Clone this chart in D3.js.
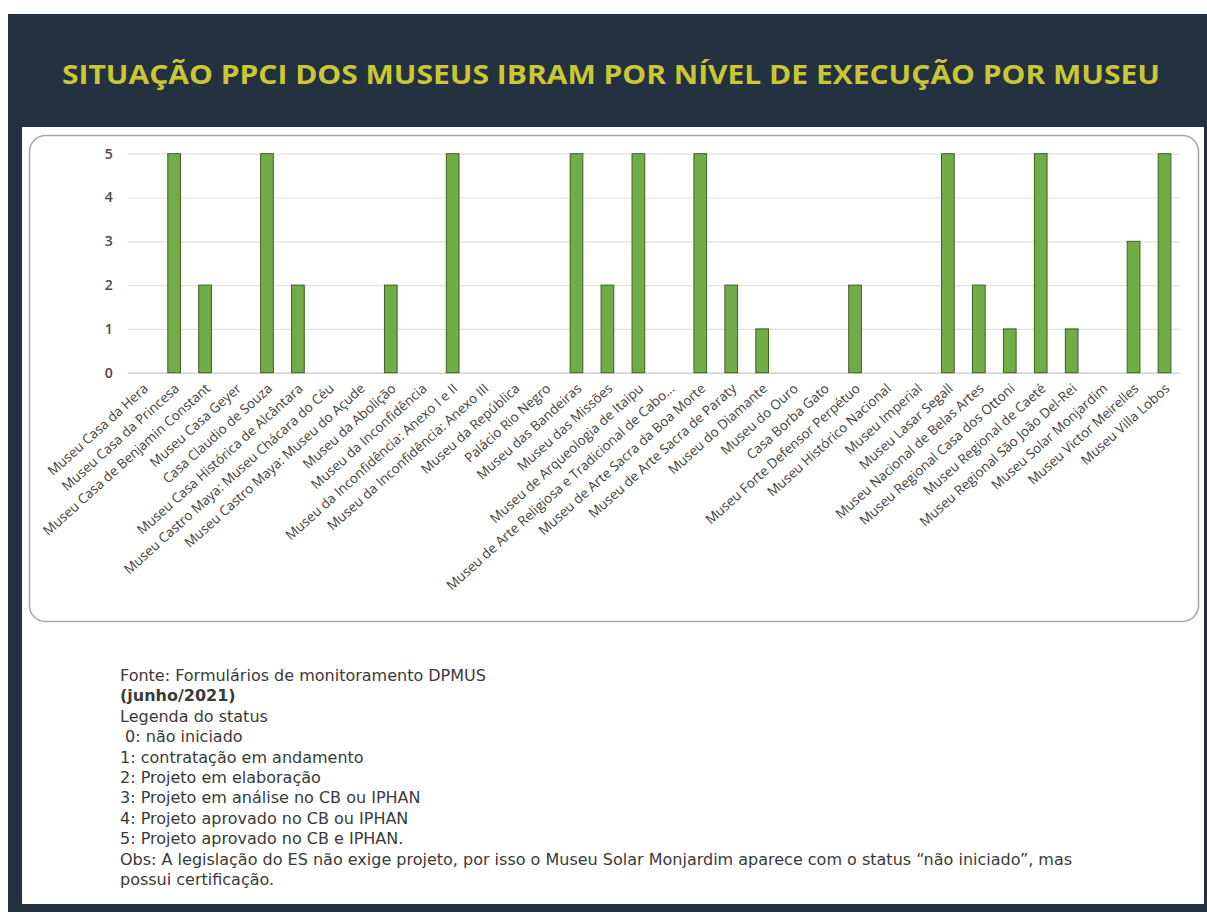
<!DOCTYPE html>
<html><head><meta charset="utf-8">
<script src="https://cdn.jsdelivr.net/npm/d3@7"></script>
<style>html,body{margin:0;padding:0;background:#fff;}svg{display:block;}</style>
</head><body>
<script>
const museums = ["Museu Casa da Hera","Museu Casa da Princesa","Museu Casa de Benjamin Constant","Museu Casa Geyer","Casa Claudio de Souza","Museu Casa Histórica de Alcântara","Museu Castro Maya: Museu Chácara do Céu","Museu Castro Maya: Museu do Açude","Museu da Abolição","Museu da Inconfidência","Museu da Inconfidência: Anexo I e II","Museu da Inconfidência: Anexo III","Museu da República","Palácio Rio Negro","Museu das Bandeiras","Museu das Missões","Museu de Arqueologia de Itaipu","Museu de Arte Religiosa e Tradicional de Cabo...","Museu de Arte Sacra da Boa Morte","Museu de Arte Sacra de Paraty","Museu do Diamante","Museu do Ouro","Casa Borba Gato","Museu Forte Defensor Perpétuo","Museu Histórico Nacional","Museu Imperial","Museu Lasar Segall","Museu Nacional de Belas Artes","Museu Regional Casa dos Ottoni","Museu Regional de Caeté","Museu Regional São João Del-Rei","Museu Solar Monjardim","Museu Victor Meirelles","Museu Villa Lobos"];
const status = [0,5,2,0,5,2,0,0,2,0,5,0,0,0,5,2,5,0,5,2,1,0,0,2,0,0,5,2,1,5,1,0,3,5];
const yTicks = [0,1,2,3,4,5];
const title = "SITUAÇÃO PPCI DOS MUSEUS IBRAM POR NÍVEL DE EXECUÇÃO POR MUSEU";
const footerLines = [
  {t:"Fonte: Formulários de monitoramento DPMUS", b:false},
  {t:"(junho/2021)", b:true},
  {t:"Legenda do status", b:false},
  {t:" 0: não iniciado", b:false},
  {t:"1: contratação em andamento", b:false},
  {t:"2: Projeto em elaboração", b:false},
  {t:"3: Projeto em análise no CB ou IPHAN", b:false},
  {t:"4: Projeto aprovado no CB ou IPHAN", b:false},
  {t:"5: Projeto aprovado no CB e IPHAN.", b:false},
  {t:"Obs: A legislação do ES não exige projeto, por isso o Museu Solar Monjardim aparece com o status “não iniciado”, mas", b:false},
  {t:"possui certificação.", b:false}
];

const W = 1207, H = 912;
const svg = d3.select("body").append("svg").attr("width", W).attr("height", H);

// background frame
svg.append("rect").attr("x",8).attr("y",14).attr("width",W-8).attr("height",H-14).attr("fill","#243140");
svg.append("rect").attr("x",22).attr("y",127).attr("width",1182).attr("height",777).attr("fill","#ffffff");
svg.append("rect").attr("x",29.5).attr("y",135.5).attr("width",1169).attr("height",486).attr("rx",16)
  .attr("fill","#fff").attr("stroke","#a6a6a6").attr("stroke-width",1.5);

// title
svg.append("text").attr("x",611).attr("y",84).attr("text-anchor","middle")
  .attr("font-family","'Open Sans', sans-serif").attr("font-weight",700).attr("font-size",27)
  .attr("fill","#c9c834").attr("textLength",1098).attr("lengthAdjust","spacingAndGlyphs")
  .text(title);

// chart
const pLeft = 127.7, pRight = 1180, pTop = 153.7, pBottom = 372.7;
const x = d3.scaleBand().domain(museums).range([pLeft, pRight]).paddingInner(0.59).paddingOuter(0.295);
const y = d3.scaleLinear().domain([0,5]).range([pBottom, pTop]);

const g = svg.append("g");
g.append("g").attr("transform",`translate(${pLeft},0)`)
  .call(d3.axisLeft(y).tickValues(yTicks).tickSize(-(pRight-pLeft)).tickFormat(d3.format("d")))
  .call(a => a.select(".domain").remove())
  .call(a => a.selectAll(".tick line").attr("stroke", d => d===0 ? "#c8c8c8" : "#e2e2e2").attr("stroke-width",1.2))
  .call(a => a.selectAll(".tick text").attr("x",-15).attr("fill","#4a4a4a")
        .attr("font-family","'Open Sans', sans-serif").attr("font-weight",600).attr("font-size",14));

g.selectAll("rect.bar").data(museums).join("rect").attr("class","bar")
  .attr("x", d => x(d)).attr("width", x.bandwidth())
  .attr("y", (d,i) => y(status[i])).attr("height", (d,i) => y(0) - y(status[i]))
  .attr("fill","#70ad47").attr("stroke","#3f5f2a").attr("stroke-width",1);

// x labels
const xa = g.append("g").attr("transform",`translate(0,${pBottom})`)
  .call(d3.axisBottom(x).tickSize(0).tickPadding(0));
xa.select(".domain").remove();
xa.selectAll(".tick text")
  .attr("font-family","'Open Sans', sans-serif").attr("font-size",13.5).attr("fill","#404040")
  .attr("text-anchor","end").attr("dy",0).attr("y",0)
  .attr("transform","translate(6,17) rotate(-42)");

// footer
const ft = svg.append("text").attr("font-family","'DejaVu Sans', sans-serif").attr("font-size",16).attr("fill","#3a3a3a");
footerLines.forEach((l,i) => {
  ft.append("tspan").attr("x",120).attr("y",681 + i*20.4).attr("font-weight", l.b ? 700 : 400)
    .attr("xml:space","preserve").style("white-space","pre").text(l.t);
});
</script>
</body></html>
